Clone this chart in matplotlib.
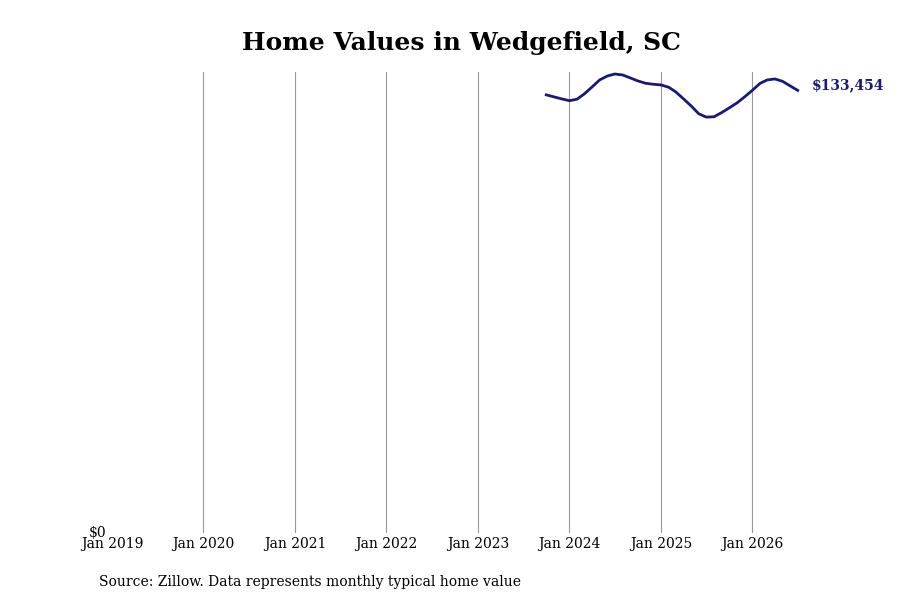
import matplotlib
matplotlib.use("Agg")
import matplotlib.pyplot as plt
import pandas as pd
from datetime import datetime

dates = pd.date_range("2023-10-01", "2026-07-01", freq="MS")
values = [132100, 131500, 130900, 130350, 130800, 132400, 134500, 136600, 137800, 138400,
          138100, 137200, 136300, 135600, 135300, 135100, 134400, 133000, 130900, 128800,
          126400, 125400, 125500, 126800, 128200, 129700, 131500, 133500, 135600, 136600,
          136900, 136200, 134800, 133454]
tick_years = list(range(2019, 2027))
tick_labels = [f"Jan {y}" for y in tick_years]
title = "Home Values in Wedgefield, SC"
source = "Source: Zillow. Data represents monthly typical home value"
end_label = "$133,454"

plt.rcParams['font.family'] = ['DejaVu Serif']
fig = plt.figure(figsize=(9, 6), dpi=100)
ax = fig.add_axes([112/900, 1-533/600, (810-112)/900, (533-72)/600])
line_color = "#1a1a6e"
ax.plot(dates, values, color=line_color, lw=2)
ax.set_xlim(datetime(2019, 1, 1), datetime(2026, 8, 19))
ax.set_ylim(0, 139000)
ticks = [datetime(y, 1, 1) for y in tick_years]
ax.set_xticks(ticks)
ax.set_xticklabels(tick_labels, fontsize=10)
ax.set_yticks([0])
ax.set_yticklabels(["$0"], fontsize=10)
ax.tick_params(axis='both', length=0)
ax.tick_params(axis='x', pad=3)
ax.tick_params(axis='y', pad=4)
for lab in ax.get_yticklabels():
    lab.set_verticalalignment('center')
    lab.set_y(0)
ax.grid(False)
for t in ticks[1:]:
    ax.axvline(t, color='#999999', lw=0.8, zorder=0)
for s in ax.spines.values():
    s.set_visible(False)
ax.annotate(end_label, xy=(dates[-1], values[-1]), xytext=(10, 3.6), textcoords='offset points',
            fontsize=10, fontweight='bold', color=line_color, va='center', ha='left')
fig.text(461/900, 1-43/600, title, fontsize=18, fontweight='bold', ha='center', va='center')
fig.text(99/900, 1-582/600, source, fontsize=10, ha='left', va='center')
fig.savefig("out.png", dpi=100)
